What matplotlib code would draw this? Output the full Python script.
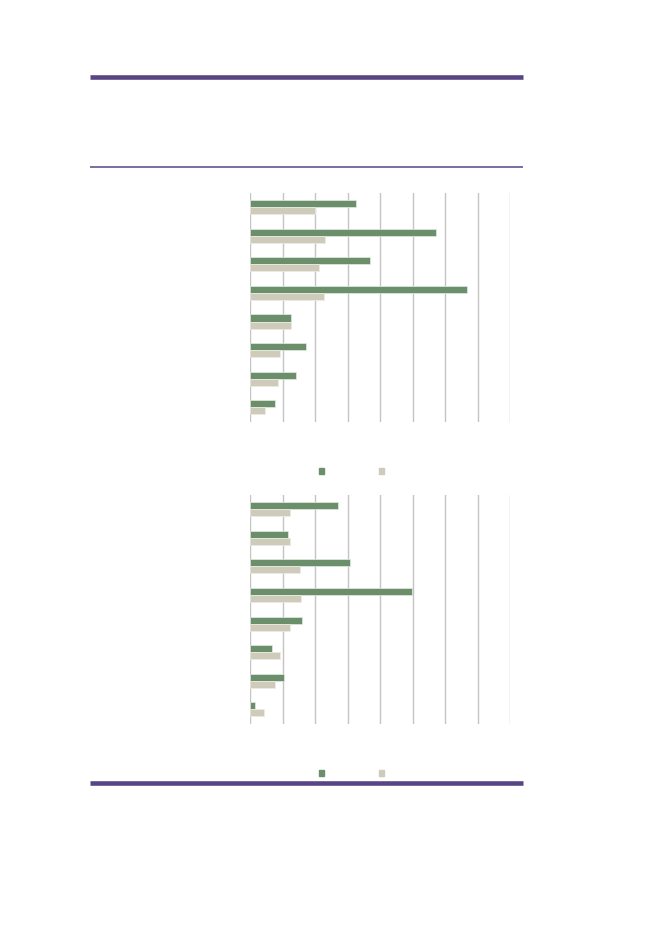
import matplotlib
matplotlib.use("Agg")
import matplotlib.pyplot as plt
import numpy as np
from matplotlib.lines import Line2D
from matplotlib.patches import Patch

# values (one grid step = 1 unit, axis 0..8)
categories = ["", "", "", "", "", "", "", ""]
top_series_a = [3.26, 5.71, 3.68, 6.67, 1.25, 1.72, 1.42, 0.77]
top_series_b = [2.00, 2.29, 2.11, 2.27, 1.24, 0.91, 0.86, 0.45]
bottom_series_a = [2.70, 1.17, 3.07, 4.98, 1.59, 0.68, 1.03, 0.15]
bottom_series_b = [1.22, 1.22, 1.53, 1.57, 1.23, 0.91, 0.77, 0.41]

GREEN = "#6b8f6b"
BEIGE = "#cfcbbb"
PURPLE = "#574586"
GRID = "#c4c4c4"

W, H = 661, 933
fig = plt.figure(figsize=(W / 100, H / 100), dpi=100)


def bar_panel(rect, a, b, legend_y):
    ax = fig.add_axes(rect)
    y = np.arange(len(categories))
    h = 0.245
    ax.barh(y - h / 2, a, height=h, color=GREEN, edgecolor="#e4ece4", linewidth=0.5)
    ax.barh(y + h / 2, b, height=h, color=BEIGE, edgecolor="#eeece4", linewidth=0.5)
    ax.set_xlim(0, 8)
    ax.set_ylim(len(categories) - 0.5, -0.5)
    ax.set_xticks(np.arange(0, 9))
    ax.set_xticklabels([])
    ax.set_yticks(y)
    ax.set_yticklabels(categories)
    ax.tick_params(length=0)
    ax.grid(axis="x", color=GRID, linewidth=1)
    ax.set_axisbelow(True)
    for s in ax.spines.values():
        s.set_visible(False)
    handles = [Patch(color=GREEN), Patch(color=BEIGE)]
    fig.legend(handles, ["", ""], loc="center", ncol=2, frameon=False,
               bbox_to_anchor=(351.5 / W, 1 - legend_y / H), fontsize=6,
               handlelength=0.65, handleheight=0.65, handletextpad=0.0,
               columnspacing=6.6, borderpad=0)
    return ax


bar_panel([250.3 / W, 1 - 421.7 / H, 260 / W, 229 / H], top_series_a, top_series_b, 471.5)
bar_panel([250.3 / W, 1 - 723.7 / H, 260 / W, 228.7 / H], bottom_series_a, bottom_series_b, 773.5)

# purple rules
rule = dict(color=PURPLE, solid_capstyle="butt")
fig.add_artist(Line2D([90 / W, 523.3 / W], [1 - 76.6 / H] * 2, linewidth=3.3, **rule))
fig.add_artist(Line2D([90 / W, 523.3 / W], [1 - 167.3 / H] * 2, linewidth=1.1, **rule))
fig.add_artist(Line2D([90 / W, 523.3 / W], [1 - 782.6 / H] * 2, linewidth=3.3, **rule))

fig.savefig("out.png", dpi=100)
